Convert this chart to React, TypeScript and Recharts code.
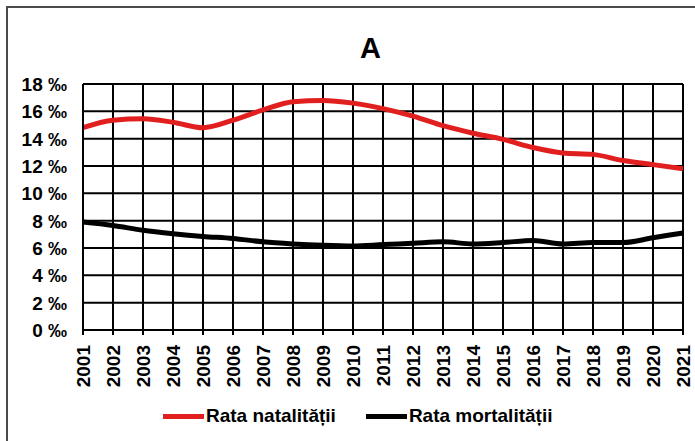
import React from 'react';
import { LineChart, Line, XAxis, YAxis, CartesianGrid } from 'recharts';

const years = [2001, 2002, 2003, 2004, 2005, 2006, 2007, 2008, 2009, 2010, 2011, 2012, 2013, 2014, 2015, 2016, 2017, 2018, 2019, 2020, 2021];
const natalitate = [14.8, 15.35, 15.45, 15.2, 14.8, 15.35, 16.1, 16.7, 16.8, 16.6, 16.2, 15.65, 14.95, 14.4, 13.95, 13.35, 12.95, 12.85, 12.4, 12.1, 11.8];
const mortalitate = [7.9, 7.65, 7.3, 7.05, 6.85, 6.7, 6.45, 6.3, 6.2, 6.15, 6.25, 6.35, 6.45, 6.3, 6.4, 6.55, 6.3, 6.4, 6.4, 6.75, 7.1];
const yTicks = [0, 2, 4, 6, 8, 10, 12, 14, 16, 18];
const seriesNames = ['Rata natalității', 'Rata mortalității'];
const seriesColors = ['#e21f1f', '#000000'];
const title = 'A';

const data = years.map((y, i) => ({ year: y, nat: natalitate[i], mort: mortalitate[i] }));

const FONT = '"Liberation Sans", Arial, sans-serif';

const XTick = (props: any) => {
  const { x, y, payload } = props;
  return (
    <text
      x={x}
      y={y}
      transform={`rotate(-90, ${x}, ${y})`}
      textAnchor="end"
      dy="0.36em"
      fontFamily={FONT}
      fontWeight={700}
      fontSize={19}
      fill="#000"
    >
      {payload.value}
    </text>
  );
};

const YTick = (props: any) => {
  const { x, y, payload } = props;
  return (
    <text x={x} y={y} textAnchor="end" dy="0.36em" fontFamily={FONT} fontWeight={700} fontSize={19} fill="#000">
      {`${payload.value} ‰`}
    </text>
  );
};

export default function App() {
  return (
    <div style={{ position: 'absolute', left: 0, top: 0, width: 695, height: 441, overflow: 'hidden', background: '#fff' }}>
      <div
        style={{
          position: 'absolute',
          left: 6,
          top: 6,
          width: 720,
          height: 460,
          border: '2px solid #4a4a4a',
          boxSizing: 'border-box',
        }}
      />
      <div
        style={{
          position: 'absolute',
          left: 0,
          width: 741,
          top: 33,
          textAlign: 'center',
          fontFamily: FONT,
          fontWeight: 700,
          fontSize: 29,
          lineHeight: '30px',
          color: '#000',
        }}
      >
        {title}
      </div>
      <div style={{ position: 'absolute', left: 0, top: 0 }}>
        <LineChart width={695} height={441} data={data} margin={{ top: 84, right: 12, bottom: 0, left: 0 }}>
          <CartesianGrid stroke="#000" strokeWidth={2} />
          <XAxis
            dataKey="year"
            type="number"
            domain={[2001, 2021]}
            ticks={years}
            interval={0}
            tickSize={5}
            tickMargin={10}
            tick={<XTick />}
            axisLine={{ stroke: '#000', strokeWidth: 2 }}
            tickLine={{ stroke: '#000', strokeWidth: 2 }}
            height={111}
          />
          <YAxis
            domain={[0, 18]}
            ticks={yTicks}
            interval={0}
            width={83}
            tickSize={0}
            tickMargin={16}
            tickLine={false}
            tick={<YTick />}
            axisLine={{ stroke: '#000', strokeWidth: 2 }}
          />
          <Line type="monotone" dataKey="nat" stroke={seriesColors[0]} strokeWidth={5} dot={false} isAnimationActive={false} />
          <Line type="monotone" dataKey="mort" stroke={seriesColors[1]} strokeWidth={5} dot={false} isAnimationActive={false} />
        </LineChart>
      </div>
      <div
        style={{
          position: 'absolute',
          left: 163,
          top: 405,
          display: 'flex',
          gap: 30,
          fontFamily: FONT,
          fontWeight: 700,
          fontSize: 19,
          lineHeight: '22px',
          color: '#000',
          whiteSpace: 'nowrap',
        }}
      >
        {seriesNames.map((n, i) => (
          <div key={n} style={{ display: 'flex', alignItems: 'center' }}>
            <div style={{ width: 41, height: 5, background: seriesColors[i], marginRight: 2 }} />
            <span>{n}</span>
          </div>
        ))}
      </div>
    </div>
  );
}
